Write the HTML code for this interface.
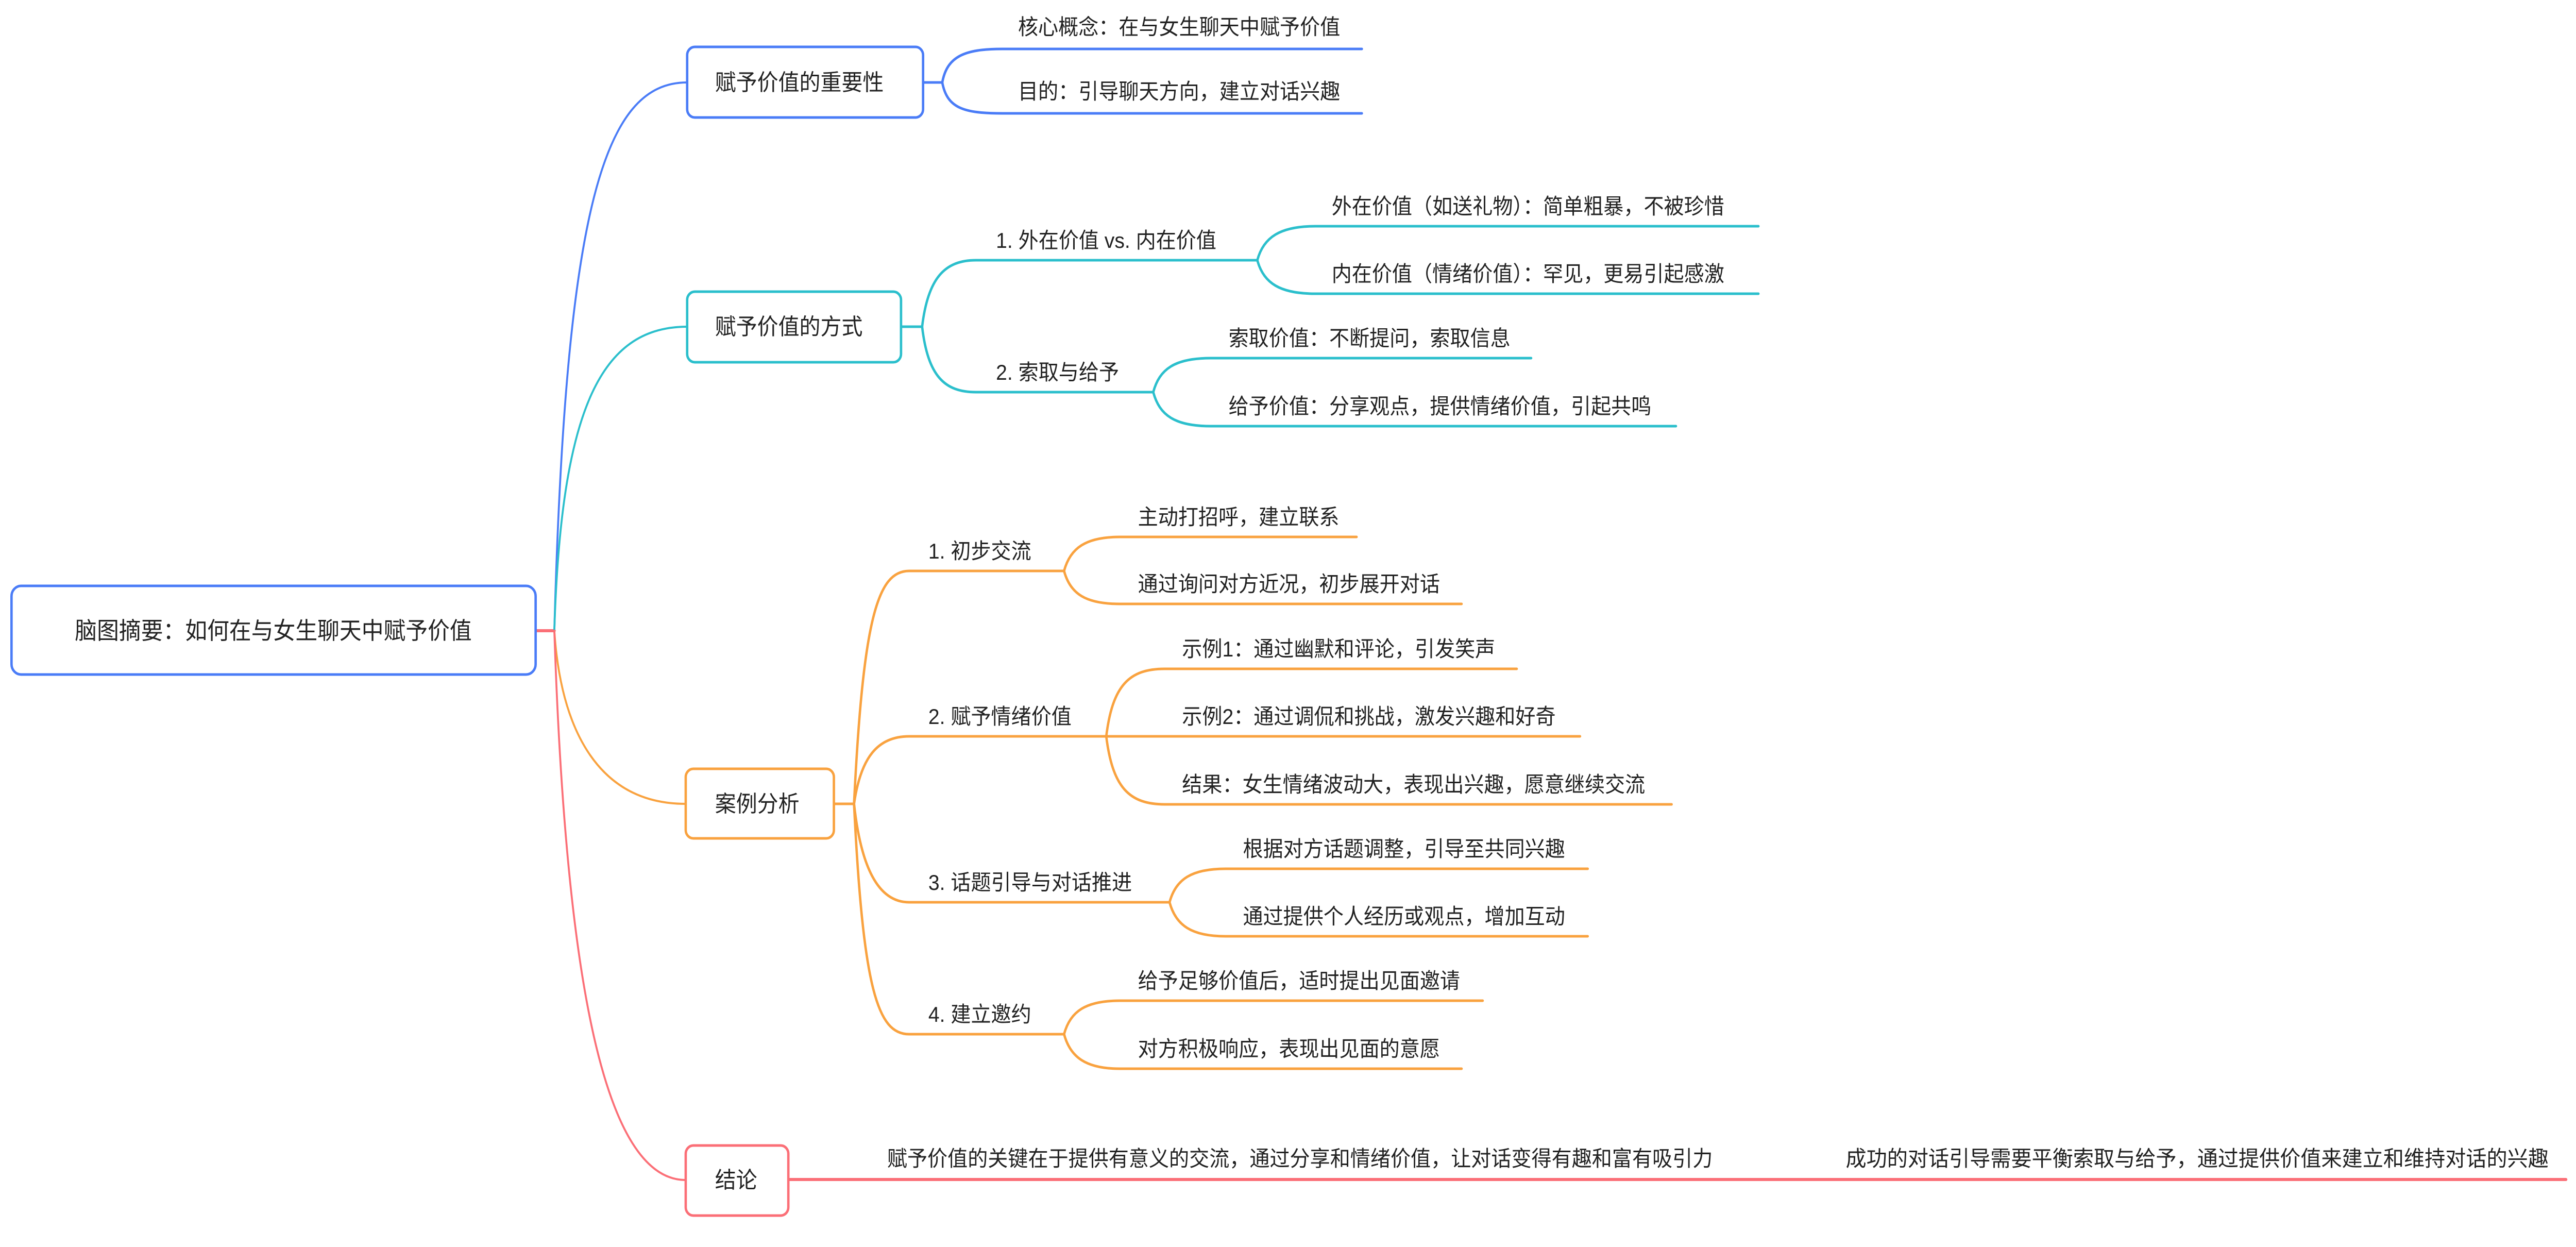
<!DOCTYPE html>
<html><head><meta charset="utf-8"><style>
html,body{margin:0;padding:0;background:#fff;overflow:hidden;width:100%;height:100%;}
svg{display:block;width:100vw;height:100vh;}
text{font-family:"Liberation Sans","Noto Sans CJK SC",sans-serif;fill:#222;}
</style></head><body>
<svg viewBox="0 0 5372 2420" preserveAspectRatio="none" xmlns="http://www.w3.org/2000/svg">
<g fill="none" stroke-linecap="round">
<path d="M1117,1224 H1156" stroke="#fb6f77" stroke-width="6"/>
<path d="M1156,1224 C1180,400 1260,160 1433,160" stroke="#4a7cf7" stroke-width="4"/>
<path d="M1156,1224 C1170,800 1250,634 1433,634" stroke="#2bbfcc" stroke-width="4"/>
<path d="M1156,1224 C1170,1420 1250,1560 1430,1560" stroke="#f9a23f" stroke-width="4"/>
<path d="M1156,1224 C1180,1900 1260,2290 1430,2290" stroke="#fb6f77" stroke-width="4"/>

<g stroke="#4a7cf7" stroke-width="5">
<path d="M1925,160 H1965"/>
<path d="M1965,160 C1975,110 2010,95 2090,95 H2840"/>
<path d="M1965,160 C1975,210 2010,220 2090,220 H2840"/>
</g>
<g stroke="#2bbfcc" stroke-width="5">
<path d="M1879,634 H1923"/>
<path d="M1923,634 C1935,540 1970,505 2035,505 H2622"/>
<path d="M1923,634 C1935,730 1970,761 2035,761 H2405"/>
<path d="M2622,505 C2635,460 2670,439 2743,439 H3667"/>
<path d="M2622,505 C2635,550 2670,570 2743,570 H3667"/>
<path d="M2405,761 C2418,716 2450,695 2525,695 H3193"/>
<path d="M2405,761 C2418,806 2450,827 2525,827 H3495"/>
</g>
<g stroke="#f9a23f" stroke-width="5">
<path d="M1739,1560 H1781"/>
<path d="M1781,1560 C1800,1200 1830,1108 1896,1108 H2219"/>
<path d="M1781,1560 C1795,1470 1830,1429 1896,1429 H2307"/>
<path d="M1781,1560 C1795,1680 1830,1751 1896,1751 H2439"/>
<path d="M1781,1560 C1800,1920 1830,2007 1896,2007 H2219"/>
<path d="M2219,1108 C2232,1063 2265,1042 2335,1042 H2829"/>
<path d="M2219,1108 C2232,1153 2265,1172 2335,1172 H3048"/>
<path d="M2307,1429 C2320,1330 2355,1298 2429,1298 H3163"/>
<path d="M2307,1429 H3295"/>
<path d="M2307,1429 C2320,1528 2355,1561 2429,1561 H3486"/>
<path d="M2439,1751 C2452,1706 2485,1686 2556,1686 H3311"/>
<path d="M2439,1751 C2452,1796 2485,1817 2556,1817 H3311"/>
<path d="M2219,2007 C2232,1962 2265,1942 2335,1942 H3092"/>
<path d="M2219,2007 C2232,2052 2265,2074 2335,2074 H3048"/>
</g>
<path d="M1644,2289 H5351" stroke="#fb6f77" stroke-width="6"/>
</g>

<g fill="#fff" stroke-width="5">
<rect x="24" y="1137" width="1093" height="172" rx="20" stroke="#4a7cf7"/>
<rect x="1433" y="91" width="492" height="137" rx="16" stroke="#4a7cf7"/>
<rect x="1433" y="566" width="446" height="137" rx="16" stroke="#2bbfcc"/>
<rect x="1430" y="1492" width="309" height="135" rx="16" stroke="#f9a23f"/>
<rect x="1430" y="2223" width="214" height="136" rx="16" stroke="#fb6f77"/>
</g>

<text x="570" y="1240" font-size="46" text-anchor="middle">脑图摘要：如何在与女生聊天中赋予价值</text>
<g font-size="44">
<text x="1491" y="175">赋予价值的重要性</text>
<text x="1491" y="649">赋予价值的方式</text>
<text x="1491" y="1575">案例分析</text>
<text x="1491" y="2305">结论</text>
</g>
<g font-size="42">
<text x="2123" y="67">核心概念：在与女生聊天中赋予价值</text>
<text x="2123" y="192">目的：引导聊天方向，建立对话兴趣</text>
<text x="2077" y="481">1. 外在价值 vs. 内在价值</text>
<text x="2077" y="737">2. 索取与给予</text>
<text x="2777" y="415">外在价值（如送礼物）：简单粗暴，不被珍惜</text>
<text x="2777" y="546">内在价值（情绪价值）：罕见，更易引起感激</text>
<text x="2562" y="671">索取价值：不断提问，索取信息</text>
<text x="2562" y="803">给予价值：分享观点，提供情绪价值，引起共鸣</text>
<text x="1936" y="1084">1. 初步交流</text>
<text x="1936" y="1405">2. 赋予情绪价值</text>
<text x="1936" y="1727">3. 话题引导与对话推进</text>
<text x="1936" y="1983">4. 建立邀约</text>
<text x="2373" y="1018">主动打招呼，建立联系</text>
<text x="2373" y="1148">通过询问对方近况，初步展开对话</text>
<text x="2465" y="1274">示例1：通过幽默和评论，引发笑声</text>
<text x="2465" y="1405">示例2：通过调侃和挑战，激发兴趣和好奇</text>
<text x="2465" y="1537">结果：女生情绪波动大，表现出兴趣，愿意继续交流</text>
<text x="2592" y="1662">根据对方话题调整，引导至共同兴趣</text>
<text x="2592" y="1793">通过提供个人经历或观点，增加互动</text>
<text x="2373" y="1918">给予足够价值后，适时提出见面邀请</text>
<text x="2373" y="2050">对方积极响应，表现出见面的意愿</text>
<text x="1850" y="2263">赋予价值的关键在于提供有意义的交流，通过分享和情绪价值，让对话变得有趣和富有吸引力</text>
<text x="3849" y="2263" textLength="1466" lengthAdjust="spacingAndGlyphs">成功的对话引导需要平衡索取与给予，通过提供价值来建立和维持对话的兴趣</text>
</g>
</svg>
</body></html>
